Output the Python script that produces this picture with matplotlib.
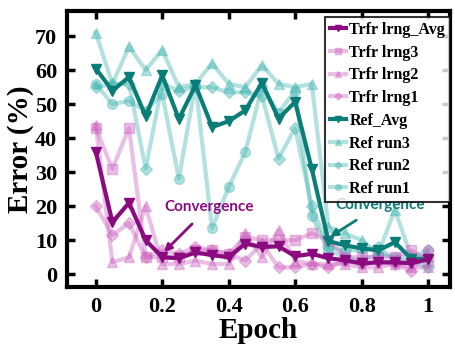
import matplotlib.pyplot as plt
import numpy as np

epoch = [0, 0.05, 0.1, 0.15, 0.2, 0.25, 0.3, 0.35, 0.4, 0.45, 0.5,
         0.55, 0.6, 0.65, 0.7, 0.75, 0.8, 0.85, 0.9, 0.95, 1.0]

trfr_avg = [36, 15.3, 21, 10, 5, 4.7, 6.4, 5.6, 5, 9, 8, 8.2, 5.3, 6, 4.7, 4.1, 3.2, 3.5, 3.5, 3.2, 4.4]
trfr_3 = [43, 31, 43, 5, 5, 5, 7, 7, 6, 11, 10, 10, 10, 12, 10, 5, 5, 5, 5, 7, 4]
trfr_2 = [44, 3.5, 5, 20, 3, 3, 4, 3, 3, 12, 5, 13, 4, 3, 3, 3, 2, 2, 3, 2, 2]
trfr_1 = [20, 11.5, 15, 5, 7, 6, 8, 7, 6, 4, 9, 2, 2, 3, 2, 4, 3, 3.5, 3, 1, 7]

ref_avg = [60.5, 54, 58, 46.5, 58.5, 45.6, 55.6, 43.3, 45, 48.2, 56.3, 45.8, 50.7, 31, 9.7, 8.5, 7.6, 7, 9.4, 4.5, 4.5]
ref_3 = [71, 56, 67, 60, 66, 55, 56, 62, 56, 55, 61.5, 56, 55, 56, 14, 12, 10, 6, 19, 5, 5]
ref_2 = [55, 56, 56, 31, 56, 54, 55, 55, 53.5, 53.5, 52.5, 34, 43, 20, 8, 7, 7, 8, 4, 4, 2]
ref_1 = [56, 50, 51, 48, 53, 28, 56, 13.5, 25.6, 36, 55, 47.5, 54, 17, 7, 5, 4, 6, 5, 5, 7]

plt.rcParams['font.family'] = ['Liberation Serif', 'DejaVu Serif']
plt.rcParams['font.weight'] = 'bold'

purple = '#8a0a80'
pink = '#cc5fbf'
teal = '#0b7d78'
lteal = '#40b5b0'

fig = plt.figure(figsize=(4.55, 3.58), dpi=100)
ax = fig.add_axes([0.147, 0.198, 0.842, 0.771])

lw = 3
ms = 7
ax.plot(epoch, trfr_avg, color=purple, lw=lw, marker='v', ms=ms, label='Trfr lrng_Avg', zorder=6)
ax.plot(epoch, trfr_3, color=pink, alpha=0.4, lw=lw, marker='s', ms=ms, label='Trfr lrng3', zorder=3)
ax.plot(epoch, trfr_2, color=pink, alpha=0.4, lw=lw, marker='^', ms=ms, label='Trfr lrng2', zorder=3)
ax.plot(epoch, trfr_1, color=pink, alpha=0.4, lw=lw, marker='D', ms=ms - 1, label='Trfr lrng1', zorder=3)
ax.plot(epoch, ref_avg, color=teal, lw=lw, marker='v', ms=ms, label='Ref_Avg', zorder=5)
ax.plot(epoch, ref_3, color=lteal, alpha=0.4, lw=lw, marker='^', ms=ms, label='Ref run3', zorder=2)
ax.plot(epoch, ref_2, color=lteal, alpha=0.4, lw=lw, marker='D', ms=ms - 1, label='Ref run2', zorder=2)
ax.plot(epoch, ref_1, color=lteal, alpha=0.4, lw=lw, marker='o', ms=ms, label='Ref run1', zorder=2)

# convergence arrows
ax.annotate('Convergence', xy=(0.205, 6.5), xytext=(0.34, 19.7), color=purple,
            fontsize=11, fontweight='bold', family=['Lato', 'DejaVu Sans'], ha='center', va='center',
            arrowprops=dict(arrowstyle='-|>', color=purple, lw=2, shrinkA=7, shrinkB=0))
ax.annotate('Convergence', xy=(0.705, 11), xytext=(0.855, 20.3), color=teal,
            fontsize=11, fontweight='bold', family=['Lato', 'DejaVu Sans'], ha='center', va='center',
            arrowprops=dict(arrowstyle='-|>', color=teal, lw=2, shrinkA=7, shrinkB=0))

ax.set_xlim(-0.087, 1.066)
ax.set_ylim(-3.8, 77.4)
ax.set_xticks([0, 0.2, 0.4, 0.6, 0.8, 1])
ax.set_xticklabels(['0', '0.2', '0.4', '0.6', '0.8', '1'])
ax.set_yticks(range(0, 80, 10))
ax.tick_params(direction='in', length=6, width=2.5, labelsize=16, top=True, right=True, pad=7)
for s in ax.spines.values():
    s.set_linewidth(3)

ax.set_xlabel('Epoch', fontsize=21, fontweight='bold', labelpad=0)
ax.set_ylabel('Error (%)', fontsize=21, fontweight='bold', labelpad=1)

leg = ax.legend(loc='upper right', bbox_to_anchor=(1.0, 0.978), fontsize=11.5, frameon=True,
                fancybox=False, edgecolor='black', handlelength=1.0, handletextpad=0.2,
                labelspacing=0.42, borderpad=0.3, borderaxespad=0.0, markerscale=0.6)
leg.get_frame().set_linewidth(1.5)

fig.savefig('out.png', dpi=100)
